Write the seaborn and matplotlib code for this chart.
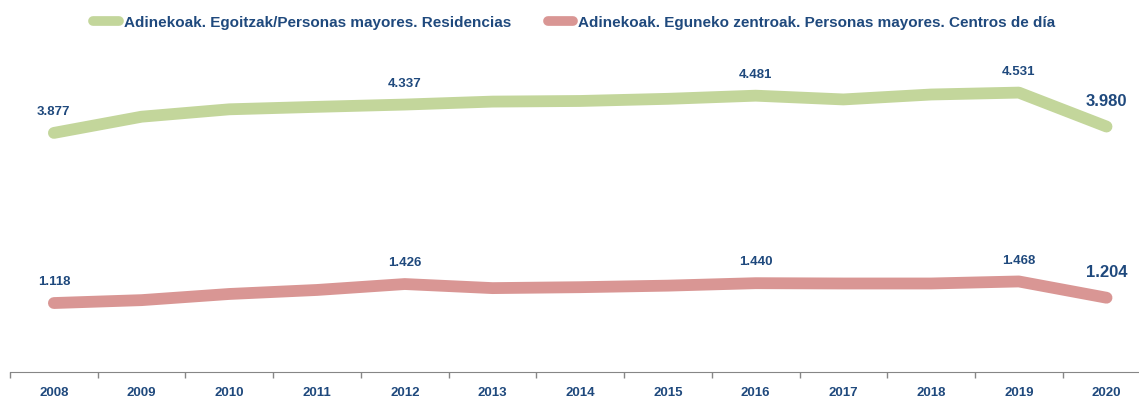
import pandas as pd
import seaborn as sns
import matplotlib.pyplot as plt
from matplotlib.ticker import FixedLocator

years = [2008, 2009, 2010, 2011, 2012, 2013, 2014, 2015, 2016, 2017, 2018, 2019, 2020]
residencias = [3877, 4140, 4260, 4300, 4337, 4385, 4395, 4430, 4481, 4420, 4500, 4531, 3980]
centros_dia = [1118, 1165, 1265, 1330, 1426, 1360, 1375, 1400, 1440, 1435, 1435, 1468, 1204]
series_names = ['Adinekoak. Egoitzak/Personas mayores. Residencias',
                'Adinekoak. Eguneko zentroak. Personas mayores. Centros de día']
labeled_years = [2008, 2012, 2016, 2019, 2020]

sns.set_style('white')
plt.rcParams['font.family'] = ['Liberation Sans', 'DejaVu Sans']
plt.rcParams['font.weight'] = 'bold'

text_color = '#1F497D'
palette = {series_names[0]: '#C3D69B', series_names[1]: '#D99694'}

df = pd.DataFrame({'year': years * 2,
                   'x': list(range(len(years))) * 2,
                   'value': residencias + centros_dia,
                   'series': [series_names[0]] * len(years) + [series_names[1]] * len(years)})

fig = plt.figure(figsize=(11.39, 4.03), dpi=100)
ax = fig.add_axes([0.0088, 0.077, 0.9912, 0.918])
sns.lineplot(data=df, x='x', y='value', hue='series', palette=palette, ax=ax,
             linewidth=8.5, solid_capstyle='round', legend=True)

# data labels
for name, vals in zip(series_names, [residencias, centros_dia]):
    for i, (yr, v) in enumerate(zip(years, vals)):
        if yr in labeled_years:
            big = yr == years[-1]
            ax.annotate(f'{v:,}'.replace(',', '.'), (i, v), xytext=(0, 18 if big else 15),
                        textcoords='offset points', ha='center', va='center',
                        fontsize=12 if big else 9.5, fontweight='bold', color=text_color)

ax.set_ylim(0, 6000)
ax.set_xlim(-0.5, 12.37)
ax.set_yticks([])
ax.set_xticks(range(len(years)))
ax.set_xticklabels(years, fontsize=9.5, fontweight='bold', color=text_color)
ax.xaxis.set_minor_locator(FixedLocator([i - 0.5 for i in range(len(years) + 1)]))
ax.tick_params(axis='x', which='major', bottom=False, length=0, pad=11)
ax.tick_params(axis='x', which='minor', bottom=True, length=4, color='#868686', width=1,
               direction='out')
ax.set_xlabel('')
ax.set_ylabel('')
for s in ['top', 'right', 'left']:
    ax.spines[s].set_visible(False)
ax.spines['bottom'].set_color('#868686')

leg = ax.legend(loc='upper center', bbox_to_anchor=(0.5, 1.0), ncol=2, frameon=False,
                fontsize=11, handlelength=1.65, handletextpad=0.35, columnspacing=2.4)
for t in leg.get_texts():
    t.set_color(text_color)
    t.set_fontweight('bold')
for h in leg.get_lines():
    h.set_linewidth(7)
    h.set_solid_capstyle('round')

fig.savefig('out.png', dpi=100)
